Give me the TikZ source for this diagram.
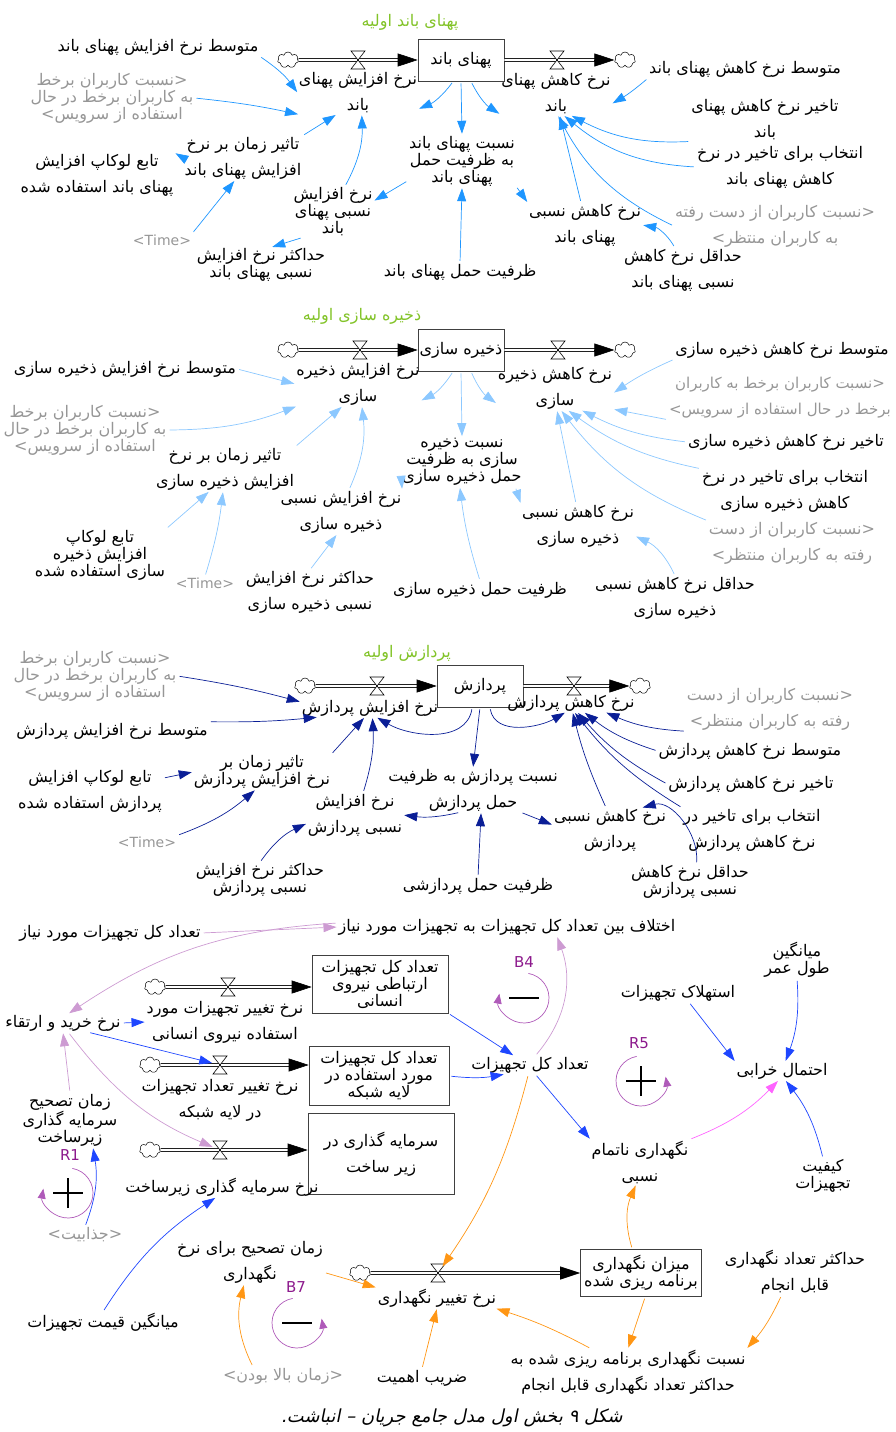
\documentclass[tikz,border=0pt]{standalone}
\usepackage{fontspec}
\usetikzlibrary{arrows.meta,shapes.symbols,calc}
\newfontfamily\farsi[Script=Arabic]{DejaVu Sans}
\newfontfamily\farsislant[Script=Arabic,FakeSlant=0.2]{DejaVu Sans}
\TeXXeTstate=1
\newcommand{\fa}[1]{\beginR #1\endR}
\newcommand{\txtsize}{\fontsize{16}{26}\selectfont}
\newcommand{\tightsize}{\fontsize{16}{17}\selectfont}

\definecolor{initgreen}{RGB}{130,195,40}
\definecolor{bwblue}{RGB}{30,150,255}
\definecolor{stblue}{RGB}{140,200,255}
\definecolor{prnavy}{RGB}{10,30,150}
\definecolor{eqblue}{RGB}{30,70,255}
\definecolor{lilac}{RGB}{205,155,210}
\definecolor{pinkmag}{RGB}{255,100,255}
\definecolor{mtorange}{RGB}{255,150,20}
\definecolor{loopviolet}{RGB}{140,25,140}
\definecolor{looparc}{RGB}{175,90,185}
\definecolor{shadowgray}{RGB}{150,150,150}

\newcommand{\valve}[1]{% hourglass valve on a pipe
  \draw[fill=white, line width=0.6pt] ($(#1)+(-7pt,9pt)$) -- ($(#1)+(7pt,9pt)$) -- ($(#1)+(-7pt,-9pt)$) -- ($(#1)+(7pt,-9pt)$) -- cycle;
}
\newcommand{\pipe}[2]{% double pipe, tip at #2
  \draw[line width=0.6pt, double distance=2.4pt, shorten >=16pt] (#1) -- (#2);
  \draw[line width=0.6pt, -{Triangle[length=20pt,width=13pt]}] ($(#2)+(-20pt,0)$) -- (#2);
}
\newcommand{\loopsign}[4]{% centre, start, end, sign
  \draw[looparc, line width=0.7pt, -{Triangle[length=10pt,width=8pt]}] ($(#1)+(#2:25pt)$) arc[start angle=#2, end angle=#3, radius=25pt];
  \draw[line width=1.1pt] ($(#1)+(-15pt,0)$) -- ($(#1)+(15pt,0)$);
  \ifx+#4\draw[line width=1.1pt] ($(#1)+(0,-15pt)$) -- ($(#1)+(0,15pt)$);\fi
}

\begin{document}
\begin{tikzpicture}[x=1pt, y=-1pt,
  lbl/.style={font=\farsi\txtsize, align=center, inner sep=1pt},
  tightlbl/.style={lbl, font=\farsi\tightsize},
  shadowlbl/.style={lbl, text=shadowgray},
  timelbl/.style={lbl, text=shadowgray, font=\farsi\fontsize{14}{16}\selectfont},
  titlelbl/.style={lbl, text=initgreen},
  looplbl/.style={lbl, text=loopviolet, font=\farsi\fontsize{15}{16}\selectfont},
  stockbox/.style={lbl, draw=black!75, line width=0.6pt, fill=white, minimum width=86pt, minimum height=42pt},
  cloudy/.style={cloud, cloud puffs=7, draw, line width=0.5pt, fill=white, minimum width=21pt, minimum height=16pt, inner sep=0pt},
  lnk/.style={-{Triangle[length=13pt,width=9pt]}, line width=0.7pt, shorten <=2pt, shorten >=1pt},
  bwl/.style={lnk, bwblue},
  stl/.style={lnk, stblue},
  prl/.style={lnk, prnavy},
  eqb/.style={lnk, eqblue},
  pkl/.style={lnk, lilac},
  mgl/.style={lnk, pinkmag},
  orl/.style={lnk, mtorange}]
\useasboundingbox (0,0) rectangle (896,1432);

% band width
\node[titlelbl] (bwTitle) at (410,22) {\fa{پهنای باند اولیه}};
\node[stockbox] (bw) at (461,60) {\fa{پهنای باند}};
\node[cloudy] (bwSrc) at (288,60) {};
\node[cloudy] (bwSnk) at (625,60) {};
\pipe{bwSrc.east}{bw.west}
\pipe{bw.east}{bwSnk.west}
\valve{358,60}
\valve{557,60}
\node[lbl] (bwIn) at (358,93) {\fa{نرخ افزایش پهنای}\\\fa{باند}};
\node[lbl] (bwOut) at (556,94) {\fa{نرخ کاهش پهنای}\\\fa{باند}};
\node[lbl] (bwAvgIn) at (158,47) {\fa{متوسط نرخ افزایش پهنای باند}};
\node[shadowlbl, font=\farsi\tightsize] (bwOnl) at (112,98) {\fa{نسبت کاربران برخط}<\\\fa{به کاربران برخط در حال}\\>\fa{استفاده از سرویس}};
\node[lbl] (bwTime) at (243,158) {\fa{تاثیر زمان بر نرخ}\\\fa{افزایش پهنای باند}};
\node[lbl] (bwLook) at (97,175) {\fa{تابع لوکاپ افزایش}\\\fa{پهنای باند استفاده شده}};
\node[timelbl] (bwTimeV) at (162,240) {<Time>};
\node[tightlbl] (bwRelInc) at (333,212) {\fa{نرخ افزایش}\\\fa{نسبی پهنای}\\\fa{باند}};
\node[tightlbl] (bwMaxInc) at (261,265) {\fa{حداکثر نرخ افزایش}\\\fa{نسبی پهنای باند}};
\node[tightlbl] (bwRatio) at (462,161) {\fa{نسبت پهنای باند}\\\fa{به ظرفیت حمل}\\\fa{پهنای باند}};
\node[lbl] (bwCap) at (460,272) {\fa{ظرفیت حمل پهنای باند}};
\node[lbl] (bwRelDec) at (585,225) {\fa{نرخ کاهش نسبی}\\\fa{پهنای باند}};
\node[lbl] (bwMinDec) at (683,270) {\fa{حداقل نرخ کاهش}\\\fa{نسبی پهنای باند}};
\node[lbl] (bwAvgDec) at (745,69) {\fa{متوسط نرخ کاهش پهنای باند}};
\node[lbl] (bwDelay) at (765,120) {\fa{تاخیر نرخ کاهش پهنای}\\\fa{باند}};
\node[lbl] (bwChoice) at (780,167) {\fa{انتخاب برای تاخیر در نرخ}\\\fa{کاهش پهنای باند}};
\node[shadowlbl] (bwLost) at (775,226) {\fa{نسبت کاربران از دست رفته}<\\>\fa{به کاربران منتظر}};

\draw[bwl] (bwAvgIn.south east) to[bend left=10] (bwIn.west);
\draw[bwl] (bwOnl.east) to[bend left=3] (bwIn.200);
\draw[bwl] (bwTime.north east) -- (bwIn.225);
\draw[bwl] (bwTime.west) -- (bwLook.north east);
\draw[bwl] (bwTimeV.north east) -- (bwTime.250);
\draw[bwl] (bwRelInc.65) to[bend right=15] (bwIn.-80);
\draw[bwl] (bwRelInc.220) -- (bwMaxInc.60);
\draw[bwl] (bw.250) to[bend left=15] (bwIn.-15);
\draw[bwl] (bw.south) -- (bwRatio.north);
\draw[bwl] (bw.295) to[bend right=15] (bwOut.200);
\draw[bwl] (bwRatio.200) -- (bwRelInc.15);
\draw[bwl] (bwCap.north) -- (bwRatio.south);
\draw[bwl] (bwRatio.-25) -- (bwRelDec.north west);
\draw[bwl] (bwRelDec.100) -- (bwOut.-80);
\draw[bwl] (bwMinDec.110) to[bend right=25] (bwRelDec.east);
\draw[bwl] (bwAvgDec.south west) to[bend left=5] (bwOut.-10);
\draw[bwl] (bwDelay.south west) to[bend left=15] (bwOut.-55);
\draw[bwl] (bwChoice.west) to[bend left=18] (bwOut.-70);
\draw[bwl] (bwLost.west) to[bend left=18] (bwOut.-85);

% storage
\node[titlelbl] (stTitle) at (362,316) {\fa{ذخیره سازی اولیه}};
\node[stockbox] (st) at (461,350) {\fa{ذخیره سازی}};
\node[cloudy] (stSrc) at (288,350) {};
\node[cloudy] (stSnk) at (625,350) {};
\pipe{stSrc.east}{st.west}
\pipe{st.east}{stSnk.west}
\valve{360,350}
\valve{558,350}
\node[lbl] (stIn) at (358,384) {\fa{نرخ افزایش ذخیره}\\\fa{سازی}};
\node[lbl] (stOut) at (555,388) {\fa{نرخ کاهش ذخیره}\\\fa{سازی}};
\node[lbl] (stAvgIn) at (125,369) {\fa{متوسط نرخ افزایش ذخیره سازی}};
\node[shadowlbl, font=\farsi\tightsize] (stOnl) at (85,430) {\fa{نسبت کاربران برخط}<\\\fa{به کاربران برخط در حال}\\>\fa{استفاده از سرویس}};
\node[lbl] (stTime) at (225,469) {\fa{تاثیر زمان بر نرخ}\\\fa{افزایش ذخیره سازی}};
\node[tightlbl] (stLook) at (100,555) {\fa{تابع لوکاپ}\\\fa{افزایش ذخیره}\\\fa{سازی استفاده شده}};
\node[timelbl] (stTimeV) at (205,583) {<Time>};
\node[lbl] (stRelInc) at (341,512) {\fa{نرخ افزایش نسبی}\\\fa{ذخیره سازی}};
\node[lbl] (stMaxInc) at (310,592) {\fa{حداکثر نرخ افزایش}\\\fa{نسبی ذخیره سازی}};
\node[tightlbl] (stRatio) at (462,462) {\fa{نسبت ذخیره}\\\fa{سازی به ظرفیت}\\\fa{حمل ذخیره سازی}};
\node[lbl] (stCap) at (480,590) {\fa{ظرفیت حمل ذخیره سازی}};
\node[lbl] (stRelDec) at (578,526) {\fa{نرخ کاهش نسبی}\\\fa{ذخیره سازی}};
\node[lbl] (stMinDec) at (675,598) {\fa{حداقل نرخ کاهش نسبی}\\\fa{ذخیره سازی}};
\node[lbl] (stAvgDec) at (782,350) {\fa{متوسط نرخ کاهش ذخیره سازی}};
\node[shadowlbl, font=\farsi\fontsize{15}{26}\selectfont] (stOnl2) at (780,398) {\fa{نسبت کاربران برخط به کاربران}<\\>\fa{برخط در حال استفاده از سرویس}};
\node[lbl] (stDelay) at (786,442) {\fa{تاخیر نرخ کاهش ذخیره سازی}};
\node[lbl] (stChoice) at (785,491) {\fa{انتخاب برای تاخیر در نرخ}\\\fa{کاهش ذخیره سازی}};
\node[shadowlbl] (stLost) at (792,543) {\fa{نسبت کاربران از دست}<\\>\fa{رفته به کاربران منتظر}};

\draw[stl] (stAvgIn.east) -- (stIn.west);
\draw[stl] (stOnl.east) to[bend right=10] (stIn.200);
\draw[stl] (stTime.north east) -- (stIn.235);
\draw[stl] (stRelInc.70) to[bend right=15] (stIn.-80);
\draw[stl] (stLook.north east) -- (stTime.235);
\draw[stl] (stTimeV.north) to[bend right=5] (stTime.-95);
\draw[stl] (stMaxInc.north) -- (stRelInc.-100);
\draw[stl] (st.250) to[bend left=15] (stIn.-15);
\draw[stl] (st.south) -- (stRatio.north);
\draw[stl] (st.295) to[bend right=15] (stOut.195);
\draw[stl] (stRatio.195) -- (stRelInc.20);
\draw[stl] (stCap.north) to[bend left=5] (stRatio.-95);
\draw[stl] (stRatio.-25) -- (stRelDec.north west);
\draw[stl] (stRelDec.95) -- (stOut.-85);
\draw[stl] (stMinDec.north) to[bend right=20] (stRelDec.-10);
\draw[stl] (stAvgDec.south west) to[bend right=5] (stOut.-5);
\draw[stl] (stOnl2.south west) -- (stOut.-20);
\draw[stl] (stDelay.west) to[bend left=10] (stOut.-40);
\draw[stl] (stChoice.north west) to[bend left=12] (stOut.-60);
\draw[stl] (stLost.north west) to[bend left=15] (stOut.-75);

% processing
\node[titlelbl] (prTitle) at (407,653) {\fa{پردازش اولیه}};
\node[stockbox] (pr) at (480,686) {\fa{پردازش}};
\node[cloudy] (prSrc) at (305,686) {};
\node[cloudy] (prSnk) at (640,686) {};
\pipe{prSrc.east}{pr.west}
\pipe{pr.east}{prSnk.west}
\valve{377,686}
\valve{574,686}
\node[lbl] (prIn) at (370,708) {\fa{نرخ افزایش پردازش}};
\node[lbl] (prOut) at (571,703) {\fa{نرخ کاهش پردازش}};
\node[shadowlbl, font=\farsi\fontsize{16}{15}\selectfont] (prOnl) at (95,676) {\fa{نسبت کاربران برخط}<\\\fa{به کاربران برخط در حال}\\>\fa{استفاده از سرویس}};
\node[lbl] (prAvgIn) at (112,731) {\fa{متوسط نرخ افزایش پردازش}};
\node[lbl] (prLook) at (90,791) {\fa{تابع لوکاپ افزایش}\\\fa{پردازش استفاده شده}};
\node[tightlbl] (prTime) at (262,772) {\fa{تاثیر زمان بر}\\\fa{نرخ افزایش پردازش}};
\node[timelbl] (prTimeV) at (147,842) {<Time>};
\node[lbl] (prRelInc) at (355,815) {\fa{نرخ افزایش}\\\fa{نسبی پردازش}};
\node[tightlbl] (prMaxInc) at (260,880) {\fa{حداکثر نرخ افزایش}\\\fa{نسبی پردازش}};
\node[lbl] (prRatio) at (473,790) {\fa{نسبت پردازش به ظرفیت}\\\fa{حمل پردازش}};
\node[lbl] (prCap) at (478,886) {\fa{ظرفیت حمل پردازشی}};
\node[lbl] (prRelDec) at (610,830) {\fa{نرخ کاهش نسبی}\\\fa{پردازش}};
\node[tightlbl] (prMinDec) at (690,882) {\fa{حداقل نرخ کاهش}\\\fa{نسبی پردازش}};
\node[shadowlbl] (prLost) at (770,709) {\fa{نسبت کاربران از دست}<\\>\fa{رفته به کاربران منتظر}};
\node[lbl] (prAvgDec) at (750,751) {\fa{متوسط نرخ کاهش پردازش}};
\node[lbl] (prDelay) at (751,784) {\fa{تاخیر نرخ کاهش پردازش}};
\node[lbl] (prChoice) at (752,830) {\fa{انتخاب برای تاخیر در}\\\fa{نرخ کاهش پردازش}};

\draw[prl] (prOnl.east) to[bend left=3] (prIn.175);
\draw[prl] (prAvgIn.north east) to[bend right=3] (prIn.190);
\draw[prl] (prTime.north east) -- (prIn.-120);
\draw[prl] (prRelInc.70) to[bend right=10] (prIn.-75);
\draw[prl] (pr.250) to[out=-100,in=-30] (prIn.-55);
\draw[prl] (prLook.10) -- (prTime.west);
\draw[prl] (prTimeV.north east) to[bend right=10] (prTime.-110);
\draw[prl] (prMaxInc.north) to[bend left=15] (prRelInc.-170);
\draw[prl] (prRatio.-120) to[bend left=10] (prRelInc.east);
\draw[prl] (pr.south) -- (prRatio.north);
\draw[prl] (pr.-65) to[out=-80,in=-150] (prOut.-120);
\draw[prl] (prCap.north) -- (prRatio.-70);
\draw[prl] (prRatio.-25) -- (prRelDec.175);
\draw[prl] (prRelDec.100) to[bend left=5] (prOut.-80);
\draw[prl] (prChoice.north west) to[bend left=10] (prOut.-70);
\draw[prl] (prDelay.west) to[bend left=10] (prOut.-55);
\draw[prl] (prAvgDec.west) to[bend left=10] (prOut.-35);
\draw[prl] (prLost.south west) to[bend left=10] (prOut.-15);
\draw[prl] (prMinDec.70) to[out=85,in=15] (prRelDec.35);

% equipment and maintenance
\node[lbl] (eqNeed) at (110,933) {\fa{تعداد کل تجهیزات مورد نیاز}};
\node[lbl] (eqGap) at (507,927) {\fa{اختلاف بین تعداد کل تجهیزات به تجهیزات مورد نیاز}};
\node[lbl] (eqBuy) at (63,1023) {\fa{نرخ خرید و ارتقاء}};
\node[stockbox, font=\farsi\tightsize, minimum width=136pt, minimum height=58pt] (eqS1) at (380,984) {\fa{تعداد کل تجهیزات}\\\fa{ارتباطی نیروی}\\\fa{انسانی}};
\node[stockbox, font=\farsi\tightsize, minimum width=140pt, minimum height=59pt] (eqS2) at (379,1076) {\fa{تعداد کل تجهیزات}\\\fa{مورد استفاده در}\\\fa{لایه شبکه}};
\node[stockbox, minimum width=146pt, minimum height=81pt] (eqS3) at (381,1154) {\fa{سرمایه گذاری در}\\\fa{زیر ساخت}};
\node[cloudy] (eqSrc1) at (155,987) {};
\node[cloudy] (eqSrc2) at (150,1065) {};
\node[cloudy] (eqSrc3) at (150,1150) {};
\coordinate (eqEnd1) at (eqS1.west |- eqSrc1);
\coordinate (eqEnd2) at (eqS2.west |- eqSrc2);
\coordinate (eqEnd3) at (eqS3.west |- eqSrc3);
\pipe{eqSrc1.east}{eqEnd1}
\pipe{eqSrc2.east}{eqEnd2}
\pipe{eqSrc3.east}{eqEnd3}
\coordinate (eqV1) at (228,987);
\coordinate (eqV2) at (220,1065);
\coordinate (eqV3) at (220,1150);
\valve{eqV1}
\valve{eqV2}
\valve{eqV3}
\node[lbl] (eqF1) at (225,1022) {\fa{نرخ تغییر تجهیزات مورد}\\\fa{استفاده نیروی انسانی}};
\node[lbl] (eqF2) at (220,1100) {\fa{نرخ تغییر تعداد تجهیزات}\\\fa{در لایه شبکه}};
\node[lbl] (eqF3) at (222,1187) {\fa{نرخ سرمایه گذاری زیرساخت}};
\node[tightlbl] (eqCorr) at (70,1120) {\fa{زمان تصحیح}\\\fa{سرمایه گذاری}\\\fa{زیرساخت}};
\node[looplbl] (r1) at (70,1155) {R1};
\coordinate (loopR1) at (68,1193);
\loopsign{loopR1}{80}{-190}{+}
\node[shadowlbl] (eqAttr) at (85,1235) {>\fa{جذابیت}<};
\node[lbl] (eqPrice) at (103,1322) {\fa{میانگین قیمت تجهیزات}};
\node[lbl] (eqTot) at (530,1065) {\fa{تعداد کل تجهیزات}};
\node[looplbl] (b4) at (524,962) {B4};
\coordinate (loopB4) at (524,998);
\loopsign{loopB4}{80}{-190}{-}
\node[looplbl] (r5) at (639,1043) {R5};
\coordinate (loopR5) at (641,1081);
\loopsign{loopR5}{100}{370}{+}
\node[lbl] (eqIncomp) at (640,1162) {\fa{نگهداری ناتمام}\\\fa{نسبی}};
\node[lbl] (eqDep) at (678,993) {\fa{استهلاک تجهیزات}};
\node[tightlbl] (eqLife) at (797,960) {\fa{میانگین}\\\fa{طول عمر}};
\node[lbl] (eqFail) at (782,1071) {\fa{احتمال خرابی}};
\node[tightlbl] (eqQual) at (823,1176) {\fa{کیفیت}\\\fa{تجهیزات}};
\node[stockbox, font=\farsi\tightsize, minimum width=121pt, minimum height=47pt] (mtS) at (641,1273) {\fa{میزان نگهداری}\\\fa{برنامه ریزی شده}};
\node[cloudy] (mtSrc) at (360,1273) {};
\pipe{mtSrc.east}{mtS.west}
\coordinate (mtV) at (438,1273);
\valve{mtV}
\node[lbl] (mtF) at (437,1298) {\fa{نرخ تغییر نگهداری}};
\node[lbl] (mtCorr) at (250,1262) {\fa{زمان تصحیح برای نرخ}\\\fa{نگهداری}};
\node[looplbl] (b7) at (296,1287) {B7};
\coordinate (loopB7) at (297,1323);
\loopsign{loopB7}{100}{370}{-}
\node[shadowlbl] (mtUp) at (283,1376) {>\fa{زمان بالا بودن}<};
\node[lbl] (mtImp) at (422,1378) {\fa{ضریب اهمیت}};
\node[lbl] (mtMax) at (795,1272) {\fa{حداکثر تعداد نگهداری}\\\fa{قابل انجام}};
\node[lbl] (mtRatio) at (628,1372) {\fa{نسبت نگهداری برنامه ریزی شده به}\\\fa{حداکثر تعداد نگهداری قابل انجام}};
\node[font=\farsislant\fontsize{18}{20}\selectfont] (cap) at (452,1418) {\fa{شکل ۹ بخش اول مدل جامع جریان – انباشت.}};

\draw[pkl] (eqNeed.east) -- (eqGap.west);
\draw[pkl] ([yshift=4pt]eqGap.west) to[bend right=15] (eqBuy.60);
\draw[eqb] (eqBuy.east) -- (eqF1.west);
\draw[eqb, shorten >=8pt] (eqBuy.-20) -- (eqV2);
\draw[pkl, shorten >=8pt] (eqBuy.-60) to[bend right=15] (eqV3);
\draw[pkl] (eqCorr.north) -- (eqBuy.south);
\draw[eqb] (eqAttr.north) to[bend right=15] (eqCorr.-50);
\draw[eqb] (eqPrice.north) to[bend left=12] (eqF3.-120);
\draw[eqb] (eqS1.south east) -- (eqTot.150);
\draw[eqb] (eqS2.east) to[bend right=8] (eqTot.200);
\draw[pkl] (eqTot.60) to[bend right=30] ([xshift=50pt]eqGap.south);
\draw[eqb] (eqTot.-60) -- (eqIncomp.north west);
\draw[orl, shorten >=8pt] (eqTot.-100) to[bend left=10] (mtV);
\draw[eqb] (eqDep.-40) -- (eqFail.north west);
\draw[eqb] (eqLife.south) to[bend left=12] (eqFail.70);
\draw[mgl] (eqIncomp.north east) to[bend right=12] (eqFail.-110);
\draw[eqb] (eqQual.north) to[bend right=12] (eqFail.-70);
\draw[orl] (mtCorr.-8) -- (mtF.north west);
\draw[orl] ([xshift=-30pt]mtUp.north) to[bend left=20] (mtCorr.-105);
\draw[orl] (mtImp.north) -- (mtF.south);
\draw[orl] (mtS.110) to[bend left=20] (eqIncomp.-100);
\draw[orl] (mtS.-80) -- (mtRatio.north);
\draw[orl] (mtMax.-120) to[bend left=8] (mtRatio.north east);
\draw[orl] ([xshift=-37pt]mtRatio.north) to[bend right=5] (mtF.-10);
\end{tikzpicture}
\end{document}
